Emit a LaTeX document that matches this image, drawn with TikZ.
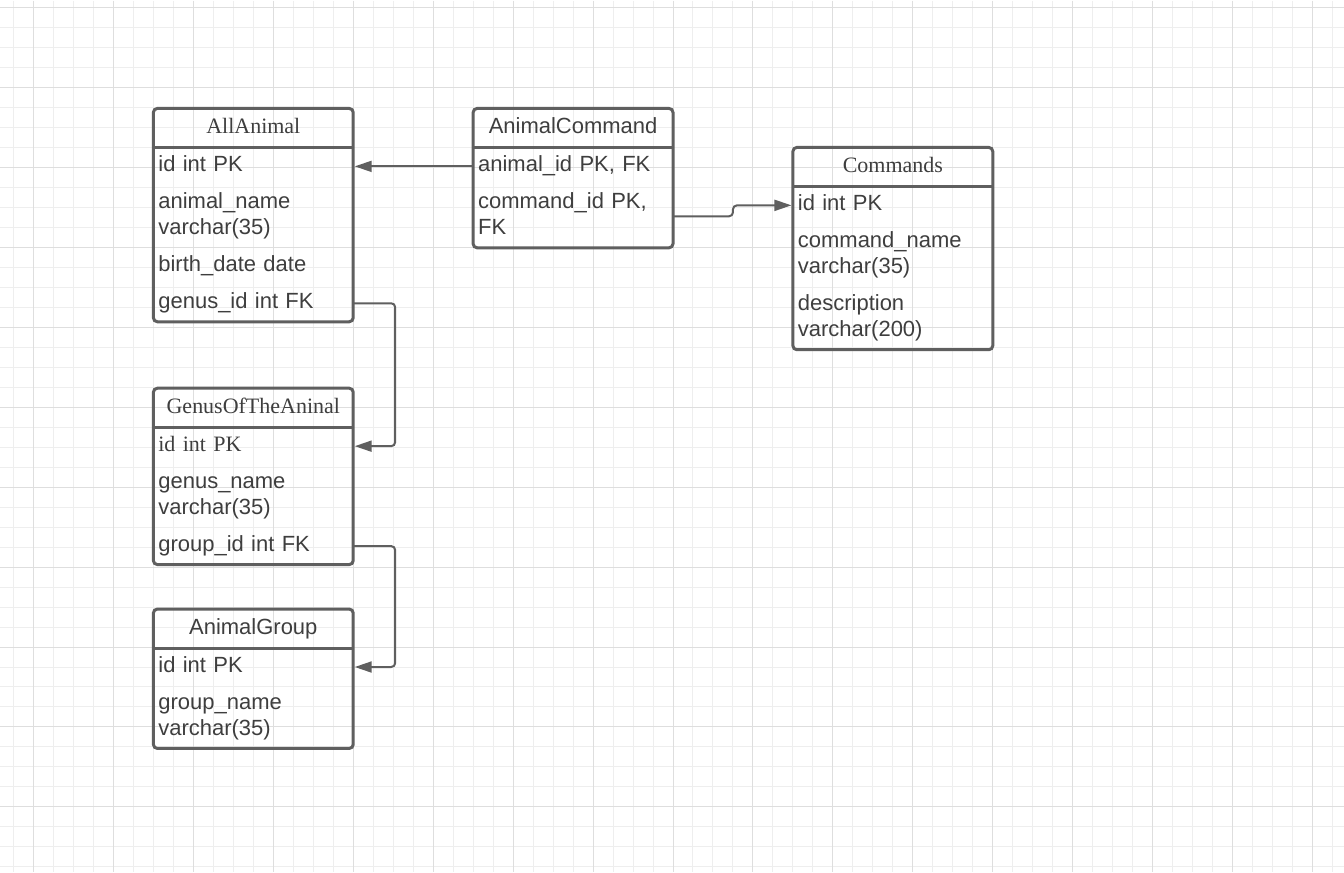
\documentclass[tikz,border=0pt]{standalone}
\usepackage{fontspec}
\setmainfont{Liberation Sans}
\newfontfamily\titleserif{Liberation Serif}
\usetikzlibrary{positioning,fit,arrows.meta}
\definecolor{txtcol}{RGB}{62,62,62}
\definecolor{boxcol}{RGB}{95,95,95}
\definecolor{gridminor}{RGB}{238,238,238}
\definecolor{gridmajor}{RGB}{222,222,222}
\tikzset{
	tbltitle/.style={text width=190pt, inner xsep=5pt, inner ysep=0pt, outer sep=0pt, minimum height=39.5pt, align=center, text height=16pt, text depth=5pt, font=\fontsize{22}{26}\selectfont, text=txtcol},
	tblrow/.style={tbltitle, align=left, minimum height=37pt},
	tblrow2/.style={tblrow, minimum height=63pt, text depth=31pt},
	tblbox/.style={draw=boxcol, line width=3pt, rounded corners=4pt, inner sep=0pt},
	sepline/.style={draw=boxcol, line width=3pt},
	fkline/.style={draw=boxcol, line width=2pt, rounded corners=4pt, shorten >=1.5pt, -{Triangle[length=17pt,width=11pt]}},
}

\begin{document}
\begin{tikzpicture}[x=1pt, y=-1pt]
		%%%%% START %%%%%
		
		\fill[white] (0, 0) rectangle (1344, 872);
		\foreach \gx in {13,33,...,1333} \draw[gridminor, line width=1pt] (\gx, 0) -- (\gx, 872);
		\foreach \gy in {7,27,...,867} \draw[gridminor, line width=1pt] (0, \gy) -- (1344, \gy);
		\foreach \gx in {33,113,...,1313} \draw[gridmajor, line width=1pt] (\gx, 0) -- (\gx, 872);
		\foreach \gy in {7,87,...,807} \draw[gridmajor, line width=1pt] (0, \gy) -- (1344, \gy);
		
		% AllAnimal
		\node[tbltitle, anchor=north west] (aa-title) at (153, 108) {\titleserif AllAnimal};
		\node[tblrow, below=0pt of aa-title] (aa-id) {id int PK};
		\node[tblrow2, below=0pt of aa-id] (aa-name) {animal\_name\\varchar(35)};
		\node[tblrow, below=0pt of aa-name] (aa-birth) {birth\_date date};
		\node[tblrow, below=0pt of aa-birth] (aa-genus) {genus\_id int FK};
		\node[tblbox, fit=(aa-title)(aa-genus)] (allanimal) {};
		\draw[sepline] (aa-title.south west) -- (aa-title.south east);
		
		% AnimalCommand
		\node[tbltitle, anchor=north west] (ac-title) at (473, 108) {AnimalCommand};
		\node[tblrow, below=0pt of ac-title] (ac-animal) {animal\_id PK, FK};
		\node[tblrow2, below=0pt of ac-animal] (ac-command) {command\_id PK,\\FK};
		\node[tblbox, fit=(ac-title)(ac-command)] (animalcommand) {};
		\draw[sepline] (ac-title.south west) -- (ac-title.south east);
		
		% Commands
		\node[tbltitle, anchor=north west] (cm-title) at (793, 147) {\titleserif Commands};
		\node[tblrow, below=0pt of cm-title] (cm-id) {id int PK};
		\node[tblrow2, below=0pt of cm-id] (cm-name) {command\_name\\varchar(35)};
		\node[tblrow2, below=0pt of cm-name] (cm-desc) {description\\varchar(200)};
		\node[tblbox, fit=(cm-title)(cm-desc)] (commands) {};
		\draw[sepline] (cm-title.south west) -- (cm-title.south east);
		
		% GenusOfTheAninal
		\node[tbltitle, anchor=north west] (gn-title) at (153, 388) {\titleserif GenusOfTheAninal};
		\node[tblrow, below=0pt of gn-title] (gn-id) {\titleserif id int PK};
		\node[tblrow2, below=0pt of gn-id] (gn-name) {genus\_name\\varchar(35)};
		\node[tblrow, below=0pt of gn-name] (gn-group) {group\_id int FK};
		\node[tblbox, fit=(gn-title)(gn-group)] (genus) {};
		\draw[sepline] (gn-title.south west) -- (gn-title.south east);
		
		% AnimalGroup
		\node[tbltitle, anchor=north west] (ag-title) at (153, 609) {AnimalGroup};
		\node[tblrow, below=0pt of ag-title] (ag-id) {id int PK};
		\node[tblrow2, below=0pt of ag-id] (ag-name) {group\_name\\varchar(35)};
		\node[tblbox, fit=(ag-title)(ag-name)] (animalgroup) {};
		\draw[sepline] (ag-title.south west) -- (ag-title.south east);
		
		% keys
		\draw[fkline] (ac-animal.west) -- (aa-id.east);
		\draw[fkline] (ac-command.east) -- ++(60, 0) |- (cm-id.west);
		\draw[fkline] (aa-genus.east) -- ++(42, 0) |- (gn-id.east);
		\draw[fkline] (gn-group.east) -- ++(42, 0) |- (ag-id.east);
		
		%%%%% END %%%%%
	\end{tikzpicture}
\end{document}
